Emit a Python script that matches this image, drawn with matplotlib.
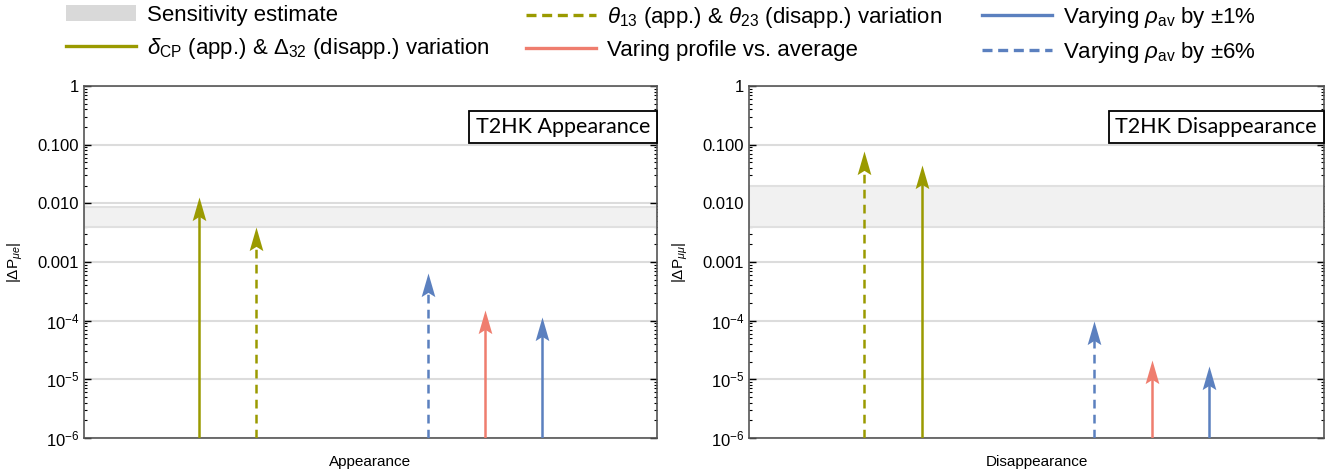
import numpy as np
import matplotlib.pyplot as plt
from matplotlib.lines import Line2D
from matplotlib.patches import Patch
from matplotlib.path import Path

plt.rcParams['font.family'] = ['Liberation Sans', 'DejaVu Sans']
plt.rcParams['mathtext.fontset'] = 'custom'
plt.rcParams['mathtext.rm'] = 'Liberation Sans'
plt.rcParams['mathtext.it'] = 'Liberation Sans:italic'
plt.rcParams['mathtext.bf'] = 'Liberation Sans:bold'

# --- data ---
app_series = ['delta', 'theta', 'rho6', 'profile', 'rho1']
app_values = [0.0128, 0.0040, 6.6e-4, 1.55e-4, 1.17e-4]
app_band = [0.004, 0.0085]

dis_series = ['theta', 'delta', 'rho6', 'profile', 'rho1']
dis_values = [0.077, 0.045, 1.0e-4, 2.1e-5, 1.7e-5]
dis_band = [0.004, 0.0195]

ytick_vals = [1e-6, 1e-5, 1e-4, 1e-3, 1e-2, 1e-1, 1]
ytick_labels = ['$10^{-6}$', '$10^{-5}$', '$10^{-4}$', '0.001', '0.010', '0.100', '1']

legend_labels = {
    'band': 'Sensitivity estimate',
    'delta': r'$\delta_{\rm CP}$ (app.) & $\Delta_{32}$ (disapp.) variation',
    'theta': r'$\theta_{13}$ (app.) & $\theta_{23}$ (disapp.) variation',
    'profile': 'Varing profile vs. average',
    'rho1': r'Varying $\rho_{\rm av}$ by $\pm$1%',
    'rho6': r'Varying $\rho_{\rm av}$ by $\pm$6%',
}

olive = '#9a9a00'
salmon = '#ef7d6e'
blue = '#5b80bf'
styles = {
    'delta': (olive, '-'),
    'theta': (olive, (0, (3.5, 2.5))),
    'rho6': (blue, (0, (3.5, 2.5))),
    'profile': (salmon, '-'),
    'rho1': (blue, '-'),
}
xpos = [0.2, 0.3, 0.6, 0.7, 0.8]

# concave arrow head, tip at the origin
head = Path([(0, 0), (0.29, -1), (0, -0.82), (-0.29, -1), (0, 0)],
            [Path.MOVETO, Path.LINETO, Path.LINETO, Path.LINETO, Path.CLOSEPOLY])

fig = plt.figure(figsize=(13.4, 4.76), dpi=100)
ax1 = fig.add_axes([84/1340, 1-438/476, 573/1340, 352/476])
ax2 = fig.add_axes([749/1340, 1-438/476, 575/1340, 352/476])


def arrow(ax, x, v, color, ls):
    ax.plot([x, x], [1e-6, v * 10**-0.3], color=color, lw=1.8, ls=ls,
            solid_capstyle='butt', dash_capstyle='butt', zorder=3)
    ax.plot([x], [v], marker=head, ms=34, color=color, mew=0, zorder=4)


def panel(ax, series, values, band, ylab, xlab, title):
    ax.set_yscale('log')
    ax.set_ylim(1e-6, 1)
    ax.set_xlim(0, 1)
    ax.set_xticks([])
    ax.set_yticks(ytick_vals)
    ax.set_yticklabels(ytick_labels)
    ax.yaxis.grid(True, which='major', color='#dcdcdc', lw=1.5)
    ax.set_axisbelow(True)
    ax.axhspan(band[0], band[1], facecolor='#f1f1f1', edgecolor='#e0e0e0', lw=1.5, zorder=1)
    ax.tick_params(axis='y', which='both', direction='in', left=True, right=True, labelsize=12)
    ax.tick_params(axis='y', which='major', length=5, width=1)
    ax.tick_params(axis='y', which='minor', length=2.5, width=0.8)
    for s in ax.spines.values():
        s.set_color('#555555')
        s.set_linewidth(1.2)
    for x, name, v in zip(xpos, series, values):
        c, ls = styles[name]
        arrow(ax, x, v, c, ls)
    ax.set_ylabel(ylab, fontsize=11, labelpad=9)
    ax.set_xlabel(xlab, fontsize=11, labelpad=12)
    ax.text(0.988, 0.912, title, transform=ax.transAxes, ha='right', va='top',
            fontsize=15.5, family=['Lato', 'DejaVu Sans'],
            bbox=dict(boxstyle='square,pad=0.3', fc='white', ec='black', lw=1.3), zorder=5)


panel(ax1, app_series, app_values, app_band, r'|$\Delta$P$_{\mu e}$|', 'Appearance', 'T2HK Appearance')
panel(ax2, dis_series, dis_values, dis_band, r'|$\Delta$P$_{\mu\mu}$|', 'Disappearance', 'T2HK Disappearance')

# legend, three columns
h_band = Patch(facecolor='#d9d9d9', edgecolor='none')
def h_line(name):
    c, ls = styles[name]
    if ls != '-':
        ls = (0, (3, 1.7))
    return Line2D([], [], color=c, ls=ls, lw=2.4)

cols = [
    (66, [h_band, h_line('delta')], [legend_labels['band'], legend_labels['delta']]),
    (526, [h_line('theta'), h_line('profile')], [legend_labels['theta'], legend_labels['profile']]),
    (982, [h_line('rho1'), h_line('rho6')], [legend_labels['rho1'], legend_labels['rho6']]),
]
for x0, hs, ls_ in cols:
    fig.legend(hs, ls_, loc='upper left', bbox_to_anchor=(x0/1340, 0.99), frameon=False,
               fontsize=16, handlelength=3.15, handletextpad=0.5, labelspacing=0.45,
               borderpad=0, borderaxespad=0)

fig.savefig('out.png', dpi=100)
